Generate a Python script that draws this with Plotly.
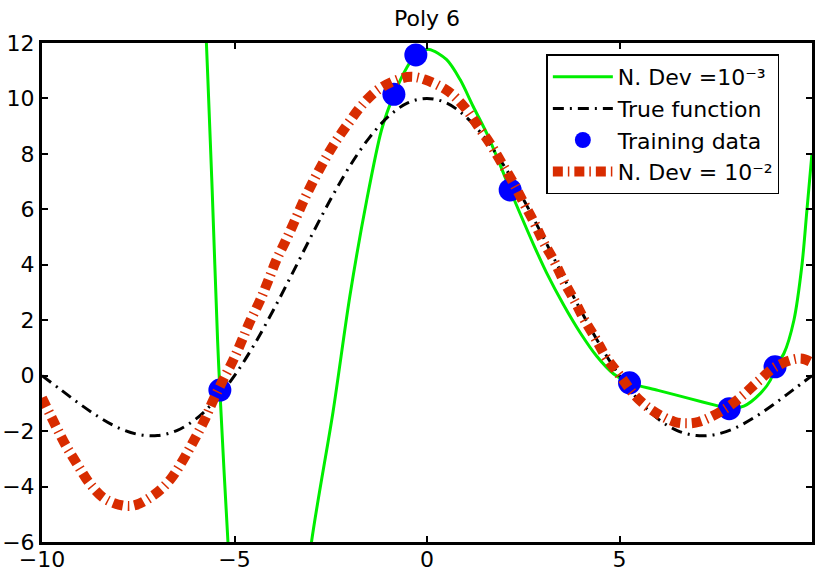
import plotly.graph_objects as go

# ---- data ----
true_x = [-10, -9.5, -9, -8.5, -8, -7.5, -7, -6.5, -6, -5.5, -5, -4.5, -4, -3.5, -3, -2.5, -2, -1.5, -1, -0.5,
          0, 0.5, 1, 1.5, 2, 2.5, 3, 3.5, 4, 4.5, 5, 5.5, 6, 6.5, 7, 7.5, 8, 8.5, 9, 9.5, 10]
true_y = [0, -0.52, -1.04, -1.51, -1.89, -2.12, -2.16, -1.98, -1.56, -0.89, 0, 1.09, 2.34, 3.68, 5.05, 6.37,
          7.57, 8.58, 9.35, 9.84, 10, 9.84, 9.35, 8.58, 7.57, 6.37, 5.05, 3.68, 2.34, 1.09, 0, -0.89, -1.56,
          -1.98, -2.16, -2.12, -1.89, -1.51, -1.04, -0.52, 0]

dev2_x = [-10, -9.63, -9.36, -9.07, -8.76, -8.33, -7.68, -7.10, -6.67, -6.34, -6.06, -5.80, -5.56, -5.30,
          -5.04, -4.82, -4.60, -4.34, -4.13, -3.91, -3.67, -3.43, -3.20, -2.96, -2.68, -2.39, -2.05, -1.70,
          -1.27, -0.72, -0.40, -0.06, 0.55, 0.99, 1.33, 1.64, 1.94, 2.24, 2.50, 2.77, 3.02, 3.30, 3.56, 3.83,
          4.09, 4.39, 4.67, 5.03, 5.39, 5.84, 6.42, 6.75, 7.07, 7.66, 8.16, 8.62, 9.09, 9.70, 10]
dev2_y = [-0.8, -1.85, -2.57, -3.23, -3.89, -4.47, -4.70, -4.31, -3.75, -3.05, -2.35, -1.66, -0.91, -0.16,
          0.54, 1.23, 1.95, 2.70, 3.41, 4.18, 4.87, 5.60, 6.32, 7.00, 7.73, 8.41, 9.09, 9.74, 10.32, 10.70,
          10.78, 10.68, 10.26, 9.66, 8.99, 8.37, 7.67, 6.96, 6.26, 5.56, 4.84, 4.14, 3.39, 2.71, 2.01, 1.31,
          0.62, -0.03, -0.70, -1.24, -1.66, -1.72, -1.66, -1.27, -0.76, -0.18, 0.35, 0.62, 0.47]

dev3_x = [-6.0, -5.73, -5.63, -5.58, -5.44, -5.38, -5.17, -5.0, -4.5, -4.0, -3.5, -3.0, -2.44, -2.0, -1.57,
          -1.18, -0.86, -0.53, -0.29, 0.05, 0.51, 0.86, 1.20, 1.55, 1.81, 2.16, 2.42, 2.77, 3.11, 3.55, 3.98,
          4.41, 4.85, 5.26, 6.0, 6.8, 7.58, 7.85, 8.23, 8.66, 8.92, 9.04, 9.27, 9.53, 9.74, 9.87, 10]
dev3_y = [20.5, 12.0, 8.5, 6.7, 1.3, -0.52, -6.0, -9.5, -15, -16, -12, -6.0, -1.3, 2.9, 6.3, 8.87, 10.14,
          11.1, 11.58, 11.77, 11.40, 10.68, 9.71, 8.75, 7.91, 6.70, 5.84, 4.72, 3.70, 2.55, 1.55, 0.70, 0.06,
          -0.26, -0.53, -0.82, -1.10, -1.19, -1.10, -0.64, -0.16, 0.32, 0.8, 2.0, 4.0, 6.0, 8.03]

train_x = [-5.38, -0.86, -0.29, 2.16, 5.26, 7.85, 9.04]
train_y = [-0.52, 10.15, 11.57, 6.70, -0.26, -1.19, 0.32]

x_ticks = [-10, -5, 0, 5, 10]
y_ticks = [-6, -4, -2, 0, 2, 4, 6, 8, 10, 12]

series_names = ["N. Dev =10⁻³", "True function", "Training data", "N. Dev = 10⁻²"]

FONT = "DejaVu Sans, Liberation Sans, Arial, sans-serif"

fig = go.Figure()
fig.add_trace(go.Scatter(x=dev3_x, y=dev3_y, mode="lines", name=series_names[0],
                         line=dict(color="#00ee00", width=3, shape="spline", smoothing=0.8)))
fig.add_trace(go.Scatter(x=true_x, y=true_y, mode="lines", name=series_names[1],
                         line=dict(color="black", width=3, dash="11px,6px,2px,6px", shape="spline")))
fig.add_trace(go.Scatter(x=train_x, y=train_y, mode="markers", name=series_names[2],
                         marker=dict(color="#0000ff", size=23, line=dict(width=0))))
fig.add_trace(go.Scatter(x=dev2_x, y=dev2_y, mode="lines", name=series_names[3],
                         line=dict(color="#d82c00", width=10, dash="10px,5px,1.5px,5px", shape="spline")))

axis_common = dict(showline=True, linecolor="black", linewidth=3, mirror="ticks", ticks="inside",
                   ticklen=6, tickwidth=2, tickcolor="black", showgrid=False, zeroline=False,
                   automargin=False, tickfont=dict(family=FONT, size=22, color="black"))

fig.update_layout(
    width=818, height=571,
    margin=dict(l=42, r=6, t=43, b=29),
    paper_bgcolor="white", plot_bgcolor="white",
    title=dict(text="Poly 6", x=0.5, xref="paper", xanchor="center", y=1 - 18 / 571, yanchor="middle",
               font=dict(family=FONT, size=22, color="black")),
    xaxis=dict(range=[-10, 10], tickvals=x_ticks, ticklabelstandoff=-4, **axis_common),
    yaxis=dict(range=[-6, 12], tickvals=y_ticks, **axis_common),
    legend=dict(x=0.655, y=0.977, xanchor="left", yanchor="top", bgcolor="white",
                bordercolor="black", borderwidth=1.5, font=dict(family=FONT, size=22, color="black"),
                itemwidth=60, tracegroupgap=0),
    showlegend=True,
)

fig.write_html("out.html")
